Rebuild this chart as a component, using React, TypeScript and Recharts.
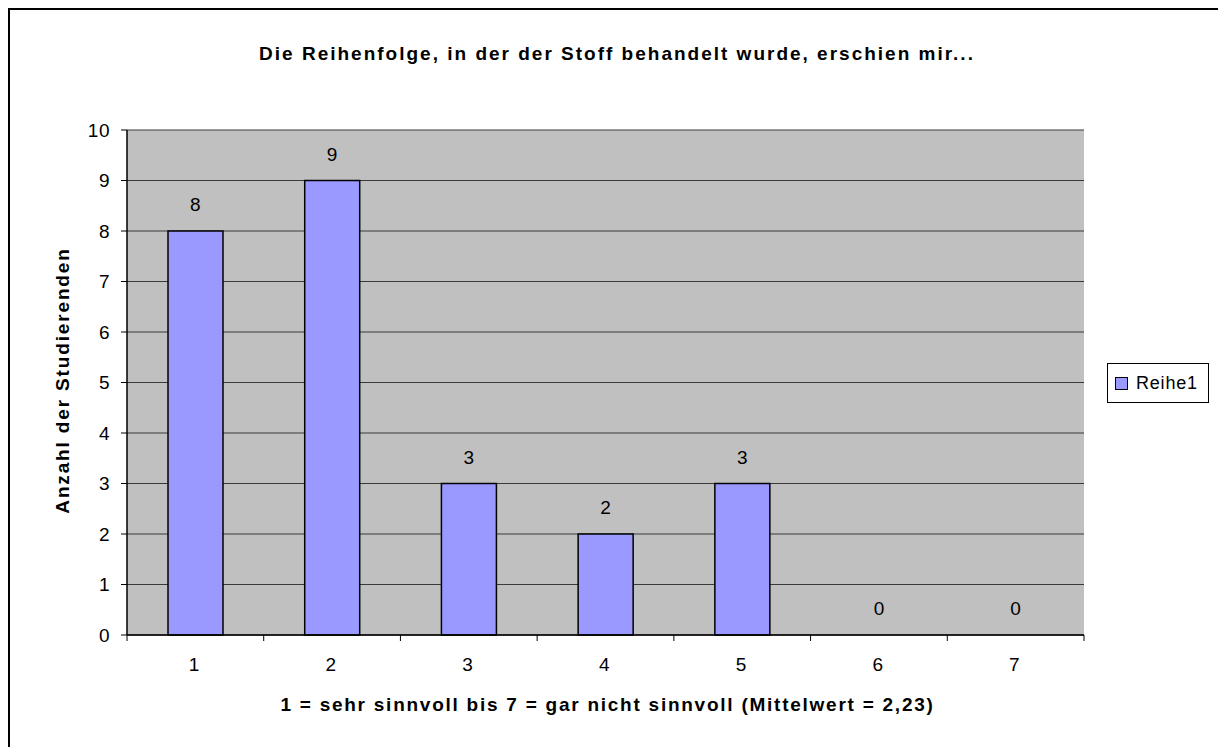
import { Bar, CartesianGrid, ComposedChart, LabelList, Legend, Line, XAxis, YAxis } from 'recharts'

const categories = ['1', '2', '3', '4', '5', '6', '7']
const counts = [8, 9, 3, 2, 3, 0, 0]
const yTicks = [0, 1, 2, 3, 4, 5, 6, 7, 8, 9, 10]

const title = 'Die Reihenfolge, in der der Stoff behandelt wurde, erschien mir...'
const xTitle = '1 = sehr sinnvoll bis 7 = gar nicht sinnvoll (Mittelwert = 2,23)'
const yTitle = 'Anzahl der Studierenden'
const seriesName = 'Reihe1'

const data = categories.map((c, i) => ({ cat: c, value: counts[i] }))

const FONT = "'Liberation Sans', Arial, sans-serif"
const BAR_FILL = '#9999FF'

// tick marks sit on the category boundaries, labels in the middle
const XTick = (props: any) => {
  const { x, y, payload, index } = props
  const half = payload?.offset ?? 0
  const last = index === categories.length - 1
  return (
    <g>
      <line x1={x - half} x2={x - half} y1={y} y2={y + 6} stroke="#000" />
      {last && <line x1={x + half} x2={x + half} y1={y} y2={y + 6} stroke="#000" />}
      <text
        x={x - 1}
        y={y + 36}
        textAnchor="middle"
        fontSize={19}
        fontFamily={FONT}
        fill="#000"
        letterSpacing={0.5}
      >
        {payload.value}
      </text>
    </g>
  )
}

const LegendBox = () => (
  <div style={{ paddingLeft: 23 }}>
    <div
      style={{
        width: 93,
        height: 38,
        border: '1px solid #000',
        background: '#fff',
        display: 'flex',
        alignItems: 'center',
        paddingLeft: 7,
        boxSizing: 'content-box',
        fontFamily: FONT,
        fontSize: 18,
        letterSpacing: 0.8,
        color: '#000',
      }}
    >
      <span
        style={{
          width: 11,
          height: 11,
          border: '1.5px solid #000',
          background: BAR_FILL,
          marginRight: 8,
          display: 'inline-block',
        }}
      />
      {seriesName}
    </div>
  </div>
)

export default function App() {
  return (
    <div style={{ position: 'relative', width: 1210, height: 739, fontFamily: FONT }}>
      <div
        style={{
          position: 'absolute',
          left: 0,
          top: 0,
          width: 1218,
          height: 747,
          borderTop: '2px solid #000',
          borderLeft: '2px solid #000',
          boxSizing: 'border-box',
        }}
      />
      <div
        style={{
          position: 'absolute',
          left: 0,
          top: 35,
          width: 1218,
          textAlign: 'center',
          fontSize: 19,
          fontWeight: 'bold',
          letterSpacing: 2,
          color: '#000',
        }}
      >
        {title}
      </div>
      <div style={{ position: 'absolute', left: 0, top: 0 }}>
        <ComposedChart
          width={1210}
          height={739}
          data={data}
          margin={{ top: 122, right: 9, bottom: 52, left: 0 }}
          barSize={55}
        >
          <CartesianGrid
            vertical={false}
            stroke="#3a3a3a"
            fill="#C0C0C0"
            fillOpacity={1}
          />
          <XAxis
            dataKey="cat"
            height={60}
            tickLine={false}
            tickSize={0}
            tickMargin={0}
            axisLine={{ stroke: '#000', strokeWidth: 1.5 }}
            tick={<XTick />}
            interval={0}
            label={{
              content: (p: any) => {
                const vb = p.viewBox
                return (
                  <text
                    x={vb.x + vb.width / 2 + 2}
                    y={vb.y + 76}
                    textAnchor="middle"
                    fontSize={19}
                    fontWeight="bold"
                    fontFamily={FONT}
                    letterSpacing={1.75}
                    fill="#000"
                  >
                    {xTitle}
                  </text>
                )
              },
            }}
          />
          <YAxis
            width={119}
            domain={[0, 10]}
            ticks={yTicks}
            interval={0}
            tickSize={6}
            tickMargin={11}
            tickLine={{ stroke: '#000' }}
            axisLine={{ stroke: '#000', strokeWidth: 1.5 }}
            tick={{ fontSize: 19, fill: '#000', fontFamily: FONT, letterSpacing: 0.5 }}
            label={{
              content: (p: any) => {
                const vb = p.viewBox
                const cx = vb.x + 54
                const cy = vb.y + vb.height / 2 - 2
                return (
                  <text
                    x={cx}
                    y={cy}
                    transform={`rotate(-90 ${cx} ${cy})`}
                    textAnchor="middle"
                    dominantBaseline="central"
                    fontSize={19}
                    fontWeight="bold"
                    fontFamily={FONT}
                    letterSpacing={1.85}
                    fill="#000"
                  >
                    {yTitle}
                  </text>
                )
              },
            }}
          />
          <YAxis
            yAxisId="right"
            orientation="right"
            width={0}
            domain={[0, 10]}
            tick={false}
            tickLine={false}
            axisLine={{ stroke: '#808080', strokeWidth: 1.5 }}
          />
          <Legend
            layout="vertical"
            align="right"
            verticalAlign="middle"
            wrapperStyle={{ top: 355 }}
            content={<LegendBox />}
          />
          <Bar
            dataKey="value"
            name={seriesName}
            fill={BAR_FILL}
            stroke="#000"
            strokeWidth={1.5}
            isAnimationActive={false}
          />
          {/* invisible carrier for the value labels, so that zero values get one too */}
          <Line
            dataKey="value"
            stroke="none"
            dot={false}
            activeDot={false}
            legendType="none"
            isAnimationActive={false}
          >
            <LabelList
              dataKey="value"
              position="top"
              offset={20}
              fontSize={19}
              fill="#000"
              fontFamily={FONT}
            />
          </Line>
        </ComposedChart>
      </div>
    </div>
  )
}
